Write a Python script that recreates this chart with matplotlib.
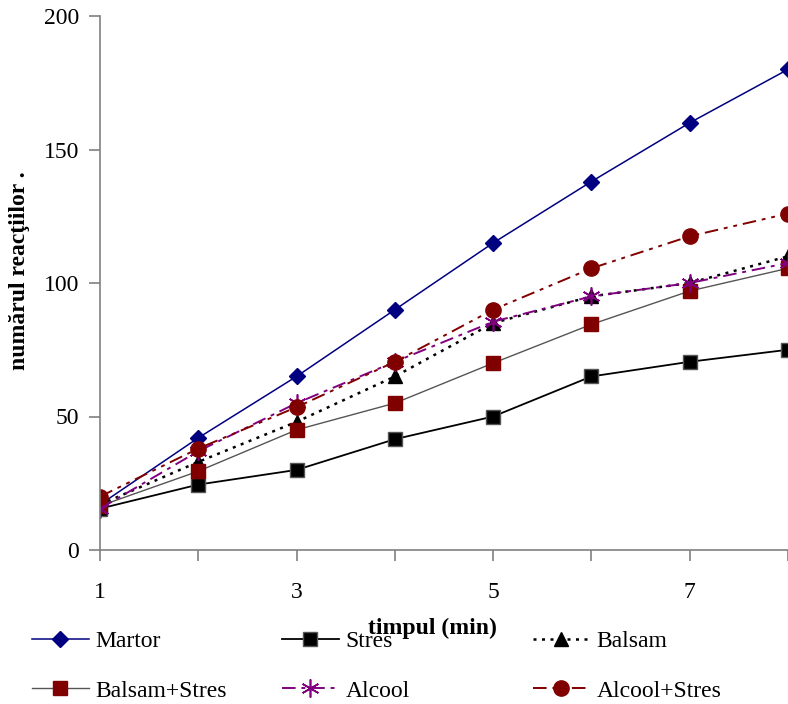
import matplotlib.pyplot as plt

plt.rcParams['font.family'] = ['Liberation Serif', 'DejaVu Serif']

# time (min) and number of reactions for each group
timp = [1, 2, 3, 4, 5, 6, 7, 8]
martor = [17, 42, 65, 90, 115, 138, 160, 180]
stres = [15.5, 24.5, 30, 41.5, 50, 65, 70.5, 75]
balsam = [17, 33, 48, 65, 85, 95, 100, 110]
balsam_stres = [16.5, 29.5, 45, 55, 70, 84.5, 97, 105.5]
alcool = [15.5, 37, 55, 70.5, 85.5, 95, 100, 107.5]
alcool_stres = [20, 38, 53.5, 70.5, 90, 105.5, 117.5, 126]

fig = plt.figure(figsize=(7.88, 7.04), dpi=100)
ax = fig.add_axes([100/788, 1 - 550/704, 688/788, 534/704])

navy = '#000080'
dred = '#800000'
purple = '#800080'

h1, = ax.plot(timp, martor, color=navy, lw=1.1, marker='D', ms=8,
              mfc=navy, mec=navy, label='Martor')
h2, = ax.plot(timp, stres, color='black', lw=1.3, marker='s', ms=10,
              mfc='black', mec='#555555', label='Stres')
h3, = ax.plot(timp, balsam, color='black', lw=1.8, ls=(0, (1.2, 2.2)),
              marker='^', ms=10, mfc='black', mec='black', label='Balsam')
h4, = ax.plot(timp, balsam_stres, color='#555555', lw=1.0, marker='s', ms=10,
              mfc=dred, mec=dred, label='Balsam+Stres')
h5, = ax.plot(timp, alcool, color=purple, lw=1.4, ls=(0, (7, 3, 2, 3)),
              marker=(6, 2, 0), ms=13, mec=purple, mew=1.2, label='Alcool')
h6, = ax.plot(timp, alcool_stres, color=dred, lw=1.4, ls=(0, (7, 3, 2, 3, 2, 3)),
              marker='o', ms=11, mfc=dred, mec=dred, label='Alcool+Stres')

ax.set_xlim(1, 8)
ax.set_ylim(0, 200)
ax.set_xticks(timp)
ax.set_xticklabels([str(t) if t % 2 == 1 else '' for t in timp])
ax.set_yticks([0, 50, 100, 150, 200])

for s in ['top', 'right']:
    ax.spines[s].set_visible(False)
for s in ['left', 'bottom']:
    ax.spines[s].set_color('#808080')
    ax.spines[s].set_linewidth(1.2)
ax.tick_params(axis='both', direction='out', length=8, width=1.2,
               color='#808080', labelsize=17)
ax.tick_params(axis='x', pad=15)
ax.tick_params(axis='y', pad=7)

fig.text(20/788, 1 - 271/704, 'numărul reacţiilor .', rotation=90,
         ha='center', va='center', fontsize=17, fontweight='bold')
fig.text(432/788, 1 - 628/704, 'timpul (min)', ha='center', va='center',
         fontsize=17, fontweight='bold')

# three legend columns below the plot
cols = [([h1, h4], 32), ([h2, h5], 282), ([h3, h6], 533)]
for hs, x0 in cols:
    fig.legend(handles=hs, loc='center left',
               bbox_to_anchor=(x0/788, 1 - 666/704),
               frameon=False, fontsize=17, handlelength=2.4,
               handletextpad=0.3, labelspacing=1.2,
               borderpad=0, borderaxespad=0)

fig.savefig('out.png', dpi=100)
